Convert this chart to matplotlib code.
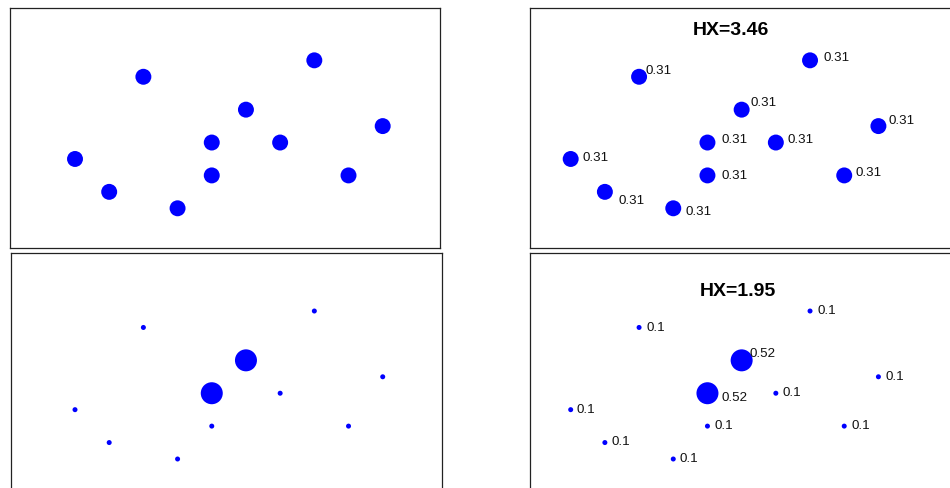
import matplotlib
matplotlib.use("Agg")
import matplotlib.pyplot as plt
import numpy as np

plt.rcParams['font.family'] = ['Liberation Sans', 'DejaVu Sans']

# ---- data -------------------------------------------------------------
x_pos = [1, 2, 3, 4, 5, 5, 6, 7, 8, 9, 10]
y_pos = [3, 1, 8, 0, 4, 2, 6, 4, 9, 2, 5]

# per-point entropy contributions (-p log2 p)
h_uniform = [0.31, 0.31, 0.31, 0.31, 0.31, 0.31, 0.31, 0.31, 0.31, 0.31, 0.31]
h_peaked = [0.1, 0.1, 0.1, 0.1, 0.52, 0.1, 0.52, 0.1, 0.1, 0.1, 0.1]

hx_titles = ["HX=3.46", "HX=1.95"]

# ---- styling ------------------------------------------------------------
W, H, DPI = 950, 489, 100
PX = 72.0 / DPI               # points per pixel
BLUE = "#0000FF"
FRAME = "#222222"
SIZE_RANGE_PX = (5.0, 22.0)   # marker diameter for smallest / largest value

# label nudges in pixels (dx right, dy down) relative to each point
nudges_uniform = [(11.6, -4), (13.6, 6.3), (6.7, -8.4), (12.7, 1.4), (13.7, -5.3),
                  (13.7, -2), (8.7, -9), (12, -5.3), (13, -5.3), (11.7, -5), (10, -8)]
nudges_peaked = [(6, -2.4), (7, -3.7), (7.4, -2.7), (6.7, -3), (14.4, 2),
                 (7, -2.7), (7.7, -9), (6.7, -3.3), (7.3, -3.3), (7, -3), (6.7, -2.7)]

all_h = np.array(h_uniform + h_peaked, dtype=float)
h_min, h_max = all_h.min(), all_h.max()
a_min = (SIZE_RANGE_PX[0] * PX) ** 2
a_max = (SIZE_RANGE_PX[1] * PX) ** 2


def marker_area(h):
    # linear area scale between the smallest and largest value
    return np.interp(np.asarray(h, dtype=float), [h_min, h_max], [a_min, a_max])


fig = plt.figure(figsize=(W / DPI, H / DPI), dpi=DPI)
fig.patch.set_facecolor("white")


def add_axes_px(left, top, width, height):
    return fig.add_axes([left / W, 1 - (top + height) / H, width / W, height / H])


# pixel boxes and limits for the four panels
panels = [
    # (left, top, width, height, xlim, ylim, values, labelled, title, nudges, title_xy)
    (9.5, 9.3, 430.5, 239.7, (-0.916, 11.676), (-2.415, 12.165), h_uniform, False, None, None, None),
    (530, 9.3, 430, 239.7, (-0.190, 12.386), (-2.415, 12.165), h_uniform, True, hx_titles[0],
     nudges_uniform, (0.467, 0.912)),
    (11, 254.3, 430.7, 240, (-0.872, 11.725), (-2.086, 12.51), h_peaked, False, None, None, None),
    (530, 254.3, 430, 240, (-0.190, 12.386), (-2.086, 12.51), h_peaked, True, hx_titles[1],
     nudges_peaked, (0.483, 0.844)),
]

DIGIT_HALF_PX = 4.8  # half the height of a digit at the label size

for (left, top, wd, ht, xl, yl, vals, labelled, title, nudges, txy) in panels:
    ax = add_axes_px(left, top, wd, ht)
    ax.set_xlim(*xl)
    ax.set_ylim(*yl)
    ax.set_xticks([])
    ax.set_yticks([])
    for sp in ax.spines.values():
        sp.set_color(FRAME)
        sp.set_linewidth(0.9)
    ax.scatter(x_pos, y_pos, s=marker_area(vals), c=BLUE, edgecolors="none", zorder=3)
    if labelled:
        for xi, yi, v, (dx, dy) in zip(x_pos, y_pos, vals, nudges):
            ax.annotate(f"{v:g}", (xi, yi),
                        xytext=(dx * PX, -(dy + DIGIT_HALF_PX) * PX),
                        textcoords="offset points", ha="left", va="baseline",
                        fontsize=9.6, color="#111111")
        ax.text(txy[0], txy[1], title, transform=ax.transAxes, ha="center", va="center",
                fontsize=14, fontweight="bold", color="black")

fig.savefig("out.png", dpi=DPI)
